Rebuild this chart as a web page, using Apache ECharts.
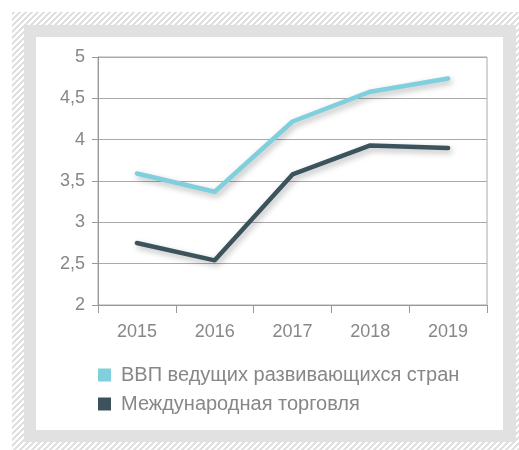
<!DOCTYPE html>
<html>
<head>
<meta charset="utf-8">
<script src="https://cdn.jsdelivr.net/npm/echarts@6/dist/echarts.min.js"></script>
<style>
html,body{margin:0;padding:0;background:#fff;}
#chart{width:519px;height:450px;}
</style>
</head>
<body>
<div id="chart"></div>
<script>
const years = ['2015', '2016', '2017', '2018', '2019'];
const gdpEmerging = [3.59, 3.37, 4.22, 4.58, 4.74];
const worldTrade = [2.75, 2.54, 3.58, 3.93, 3.90];
const seriesNames = ['ВВП ведущих развивающихся стран', 'Международная торговля'];

// hatch pattern
const pc = document.createElement('canvas');
pc.width = 6; pc.height = 6;
const pctx = pc.getContext('2d');
const img = pctx.createImageData(6, 6);
for (let y = 0; y < 6; y++) {
  for (let x = 0; x < 6; x++) {
    const m = (x + y) % 6;
    const v = m < 3 ? 224 : 255;
    const i = (y * 6 + x) * 4;
    img.data[i] = v; img.data[i+1] = v; img.data[i+2] = v; img.data[i+3] = 255;
  }
}
pctx.putImageData(img, 0, 0);

const chart = echarts.init(document.getElementById('chart'), null, {renderer: 'canvas'});
const textColor = '#878787';
const font = 'Liberation Sans, Arial, Helvetica, sans-serif';

chart.setOption({
  animation: false,
  backgroundColor: '#fff',
  graphic: [
    {type: 'rect', z: -10, silent: true, shape: {x: 12, y: 12, width: 520, height: 450}, style: {fill: {image: pc, repeat: 'repeat'}}},
    {type: 'rect', z: -9, silent: true, shape: {x: 24, y: 25, width: 492, height: 417}, style: {fill: '#e1e1e1'}},
    {type: 'rect', z: -8, silent: true, shape: {x: 36, y: 37, width: 467, height: 393}, style: {fill: '#ffffff'}}
  ],
  grid: {left: 98, right: 32, top: 57, bottom: 145, show: true, borderColor: '#aaaaaa', borderWidth: 1, backgroundColor: 'transparent'},
  legend: {
    orient: 'vertical', left: 98, top: 365, padding: 0, icon: 'rect', itemWidth: 13, itemHeight: 13, itemGap: 9,
    textStyle: {color: textColor, fontSize: 20, fontFamily: font, padding: [0, 0, 0, 5]},
    data: seriesNames
  },
  xAxis: {
    type: 'category', data: years, boundaryGap: true,
    axisLine: {lineStyle: {color: '#999999', width: 1}},
    axisTick: {show: true, length: 8, interval: 0, lineStyle: {color: '#999999'}},
    axisLabel: {color: textColor, fontSize: 18, fontFamily: font, margin: 18}
  },
  yAxis: {
    type: 'value', min: 2, max: 5, interval: 0.5,
    axisLine: {show: true, lineStyle: {color: '#999999', width: 1}},
    axisTick: {show: true, length: 6, lineStyle: {color: '#999999'}},
    axisLabel: {color: textColor, fontSize: 18, fontFamily: font, margin: 13,
      formatter: v => String(v).replace('.', ',')},
    splitLine: {show: true, lineStyle: {color: '#aaaaaa', width: 1}}
  },
  series: [
    {
      name: seriesNames[0], type: 'line', data: gdpEmerging, symbol: 'none', color: '#80cfdc',
      lineStyle: {width: 4.5, color: '#80cfdc', cap: 'round', join: 'round',
        shadowColor: 'rgba(0,0,0,0.28)', shadowBlur: 6, shadowOffsetX: 2, shadowOffsetY: 3}
    },
    {
      name: seriesNames[1], type: 'line', data: worldTrade, symbol: 'none', color: '#3c535d',
      lineStyle: {width: 4.5, color: '#3c535d', cap: 'round', join: 'round',
        shadowColor: 'rgba(0,0,0,0.28)', shadowBlur: 6, shadowOffsetX: 2, shadowOffsetY: 3}
    }
  ]
});
</script>
</body>
</html>
